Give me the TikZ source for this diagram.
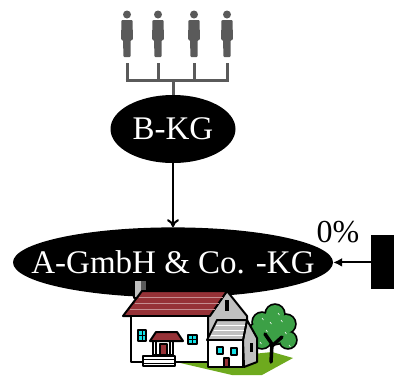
\documentclass[tikz,border=0pt]{standalone}
\usepackage{fontspec}
\setmainfont{Liberation Serif}
\usetikzlibrary{arrows.meta,positioning,shapes.geometric}

\definecolor{figgray}{RGB}{90,90,90}
\definecolor{roofred}{RGB}{150,50,55}
\definecolor{wallgray}{RGB}{192,192,192}
\definecolor{wincyan}{RGB}{20,225,230}
\definecolor{leafgreen}{RGB}{60,160,70}
\definecolor{grassgreen}{RGB}{110,170,30}

\begin{document}
\begin{tikzpicture}[
  x=1pt, y=-1pt,
  blob/.style={ellipse,fill=black,text=white,inner sep=0pt,
               font=\fontsize{33}{36}\selectfont},
  arr/.style={-{Latex[length=9pt,width=9pt]},line width=2pt},
  tree/.style={figgray,line width=3pt},
  outl/.style={draw=black,line width=2pt,line join=round},
  win/.style={outl,fill=wincyan}
]
\useasboundingbox (0,0) rectangle (394,376);

% partners
\foreach \x in {127,158,194,227} {
  \fill[figgray] (\x,14.5) circle (4pt);
  \fill[figgray,rounded corners=1pt] (\x-5.5,20) -- (\x+5.5,20) -- (\x+6,40)
    -- (\x+3.5,40) -- (\x+3.5,57) -- (\x-3.5,57) -- (\x-4,40) -- (\x-6,40) -- cycle;
  \draw[tree] (\x,63) -- (\x,81.5);
}
\draw[tree] (125.5,80) -- (228.5,80);
\coordinate (fork) at (173,80);

\node[blob,minimum width=125pt,minimum height=68pt] (bkg) at (173,129) {B-KG};
\node[blob,minimum width=320pt,minimum height=70pt,inner xsep=-30pt,
      below=64pt of bkg] (agmbh) {A-GmbH \& Co. -KG};
\node[fill=black,minimum width=23pt,minimum height=54pt,inner sep=0pt,
      right=38pt of agmbh] (ext) {};
\node[font=\fontsize{32}{34}\selectfont] (pct) at (338,232) {0\%};

\draw[tree] (fork) -- (bkg.north);
\draw[-{To[length=8pt,width=12pt]},line width=2pt] (bkg.south) -- (agmbh.north);
\draw[arr] (ext) -- (agmbh);

% house
\fill[grassgreen] (176,362) -- (232,375) -- (262,375) -- (293,358) -- (272,352) -- cycle;
% tree
\foreach \p/\r in {{262,322}/9,{275,314}/9,{286,324}/9,{288,340}/8,{262,339}/9,{274,331}/13,{256,330}/6} {
  \draw[line width=3.5pt] (\p) circle (\r pt);
}
\foreach \p/\r in {{262,322}/9,{275,314}/9,{286,324}/9,{288,340}/8,{262,339}/9,{274,331}/13,{256,330}/6} {
  \fill[leafgreen] (\p) circle (\r pt);
}
\draw[line width=3.5pt,line cap=round] (271,362) -- (272,344) -- (265,334) (272,346) -- (282,337);
\foreach \p in {{262,318},{270,322},{281,320},{266,330},{285,332},{260,342},{289,345},{278,313}}
  \draw[white,line width=0.6pt] (\p) -- ++(1.5,2);
% chimney, gable, roof
\filldraw[outl,fill=wallgray] (134,280) rectangle (147,298);
\fill[figgray] (141,281) rectangle (146,297);
\filldraw[outl,fill=wallgray] (208,316) -- (227,291) -- (247,316) -- (247,340) -- (208,340) -- cycle;
\fill (225,300) rectangle (229,311);
\filldraw[outl,fill=roofred] (123,316) -- (142,291) -- (227,291) -- (210,316) -- cycle;
\foreach \y in {297,303,309}
  \draw[roofred!55!white,line width=0.9pt] (138-0.75*\y+224,\y) -- (227-0.68*\y+198,\y);
\filldraw[outl,fill=white] (131,316) rectangle (208,362);
\foreach \a/\b in {{138,330}/{146,341},{188,335}/{197,344}} {
  \filldraw[win] (\a) rectangle (\b);
}
\draw[line width=0.9pt] (142,330) -- (142,341) (138,335.5) -- (146,335.5)
  (192.5,335) -- (192.5,344) (188,339.5) -- (197,339.5);
% porch and steps
\filldraw[outl,fill=white] (153,341) rectangle (173,355);
\filldraw[outl,fill=roofred] (160,344) rectangle (167,355);
\draw[line width=1.5pt] (156,341) -- (156,355) (170,341) -- (170,355);
\filldraw[outl,fill=roofred] (150,341) -- (156,332) -- (177,332) -- (183,341) -- cycle;
\filldraw[outl,fill=white] (143,356) rectangle (175,366);
\draw[line width=0.9pt] (143,359.5) -- (175,359.5) (143,363) -- (175,363);
% annex
\filldraw[outl,fill=wallgray] (247,320) -- (257,338) -- (257,362) -- (244,367) -- (243,340) -- cycle;
\fill (250,343) rectangle (253,352);
\filldraw[outl,fill=wallgray] (207,340) -- (217,320) -- (247,320) -- (243,340) -- cycle;
\foreach \y in {325,330,335}
  \draw[white,line width=0.8pt] (216-0.5*\y+162.5,\y) -- (245-0.2*\y+65,\y);
\filldraw[outl,fill=white] (208,340) rectangle (243,367);
\foreach \a/\b in {{217,347}/{223,354},{231,348}/{237,355}} {
  \filldraw[win] (\a) rectangle (\b);
}
\filldraw[outl,fill=roofred] (224,358) rectangle (229,367);
\end{tikzpicture}
\end{document}
